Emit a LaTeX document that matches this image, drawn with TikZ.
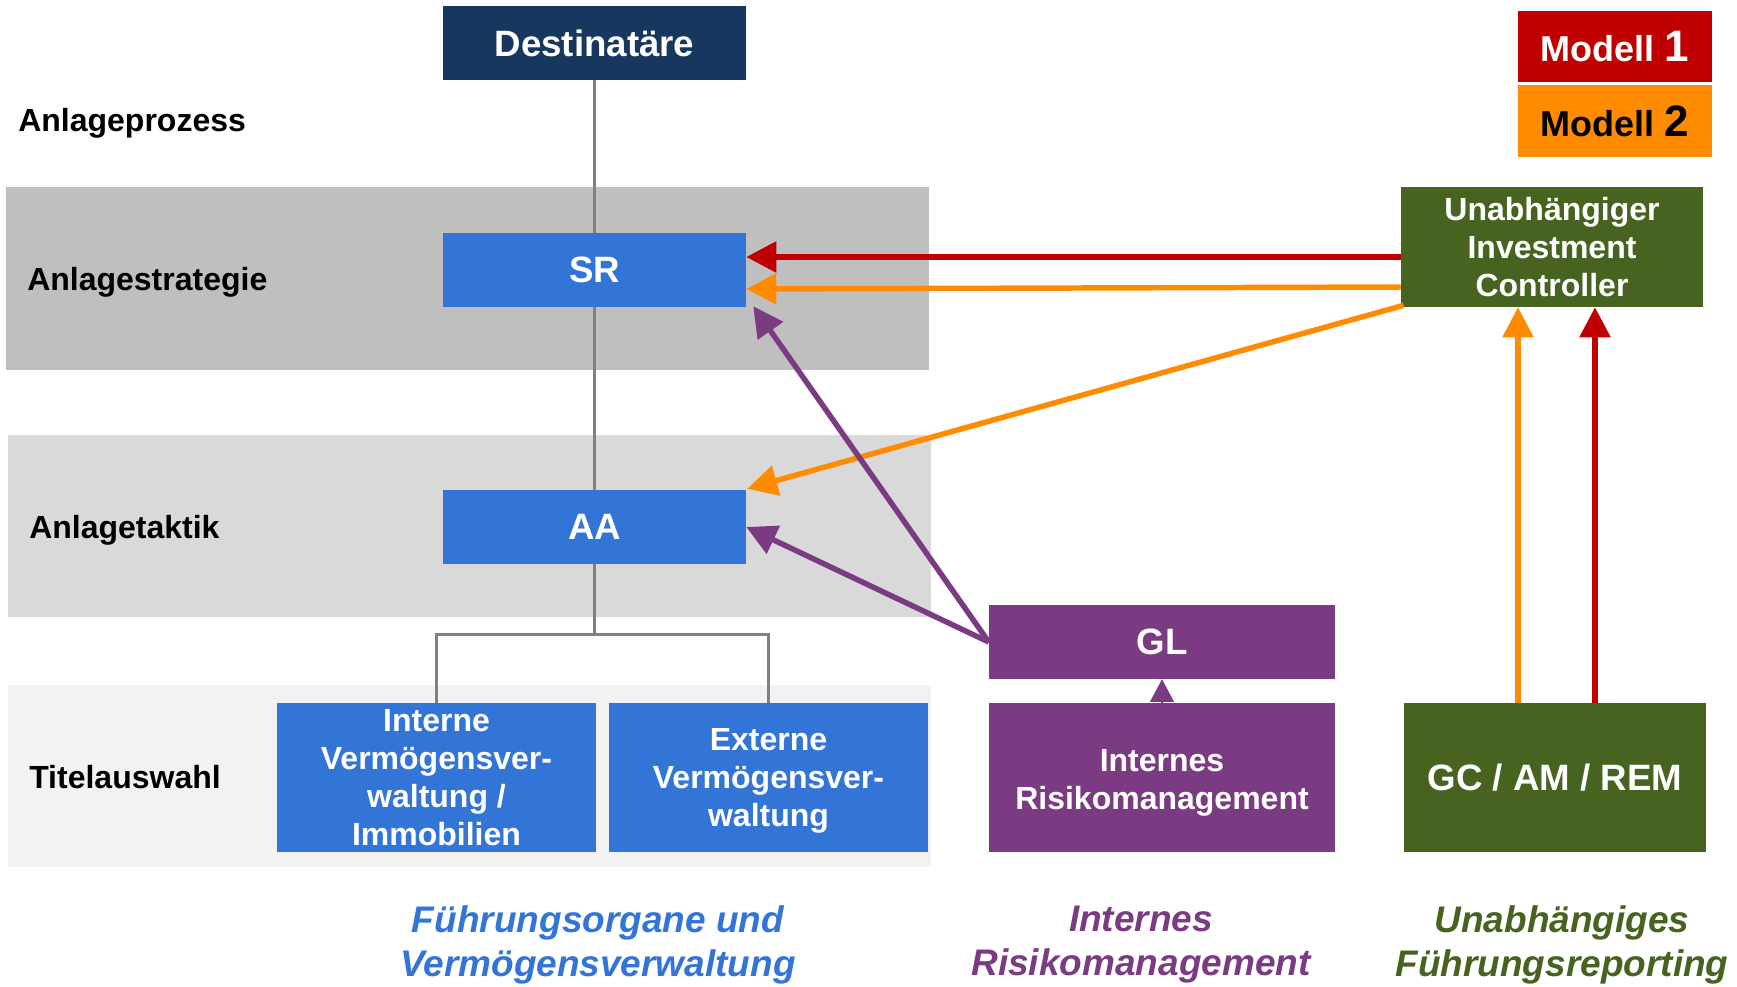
\documentclass[tikz,border=0pt]{standalone}
\usepackage{fontspec}
\setmainfont{Liberation Sans}
\usetikzlibrary{arrows.meta,calc}

\definecolor{navy}{HTML}{17375E}
\definecolor{boxblue}{HTML}{3375D6}
\definecolor{rmpurple}{HTML}{7B3B82}
\definecolor{ctrlgreen}{HTML}{46641F}
\definecolor{mred}{HTML}{C00000}
\definecolor{morange}{HTML}{FF8C00}
\definecolor{bandA}{HTML}{BFBFBF}
\definecolor{bandB}{HTML}{D9D9D9}
\definecolor{bandC}{HTML}{F2F2F2}
\definecolor{treegray}{HTML}{808080}

% taller first line: pushes a centred text block slightly downwards
\newcommand{\tallfirst}[1]{\rule{0pt}{#1}}

\tikzset{
  sz/.style 2 args={minimum width=#1*0.75pt, minimum height=#2*0.75pt},
  box/.style={rectangle, inner sep=0pt, align=center, text=white,
    font=\bfseries\fontsize{24}{28.5}\selectfont},
  bigbox/.style={box, font=\bfseries\fontsize{27.5}{33}\selectfont},
  modellbox/.style={box, font=\bfseries\fontsize{27}{32}\selectfont},
  stage/.style={anchor=west, inner sep=0pt,
    font=\bfseries\fontsize{24}{28.5}\selectfont},
  caption/.style={align=center, inner sep=0pt,
    font=\bfseries\itshape\fontsize{27.75}{33}\selectfont},
  tree/.style={draw=treegray, line width=2pt},
  flow/.style={line width=4.1pt, -{Triangle[length=22.5pt, width=22.5pt]}},
}

\begin{document}
\begin{tikzpicture}[x=0.75pt, y=-0.75pt]
  \useasboundingbox (0,0) rectangle (1737,986);
  \fill[white] (0,0) rectangle (1737,986);

  % process bands
  \fill[bandA] (6,187) rectangle (929,370);
  \fill[bandB] (8,435) rectangle (931,617);
  \fill[bandC] (8,685) rectangle (931,867);

  % stage labels
  \node[stage] (s0) at (18,123) {Anlageprozess};
  \node[stage] (s1) at (27,282) {Anlagestrategie};
  \node[stage] (s2) at (29,530) {Anlagetaktik};
  \node[stage] (s3) at (29,777) {Titelauswahl};

  % governance chain
  \node[bigbox, fill=navy, sz={303}{74}] (dest) at (594.5,43) {Destinatäre};
  \node[bigbox, fill=boxblue, sz={303}{74}] (sr) at (594.5,270) {SR};
  \node[bigbox, fill=boxblue, sz={303}{74}] (aa) at (594.5,527) {AA};
  \node[box, fill=boxblue, sz={319}{149}] (int) at (436.5,777.5)
    {Interne\\Vermögensver-\\waltung /\\Immobilien};
  \node[box, fill=boxblue, sz={319}{149}] (ext) at (768.5,777.5)
    {\tallfirst{22pt}Externe\\Vermögensver-\\waltung};

  % risk management
  \node[bigbox, fill=rmpurple, sz={346}{74}] (gl) at (1162,642) {GL};
  \node[box, fill=rmpurple, sz={346}{149}] (irm) at (1162,777.5)
    {\tallfirst{24pt}Internes\\Risikomanagement};

  % independent reporting
  \node[box, fill=ctrlgreen, sz={302}{120}] (uic) at (1552,247)
    {Unabhängiger\\Investment\\Controller};
  \node[bigbox, fill=ctrlgreen, sz={302}{149}] (gc) at (1555,777.5) {GC / AM / REM};

  % legend
  \node[modellbox, fill=mred, sz={194}{71}] (m1) at (1615,46.5)
    {Modell {\fontsize{33}{36}\selectfont 1}};
  \node[modellbox, fill=morange, text=black, sz={194}{72}] (m2) at (1615,121)
    {Modell {\fontsize{33}{36}\selectfont 2}};

  % column captions
  \node[caption, text=boxblue] (c1) at (598,945) {Führungsorgane und\\Vermögensverwaltung};
  \node[caption, text=rmpurple] (c2) at (1141,945) {Internes\\Risikomanagement};
  \node[caption, text=ctrlgreen] (c3) at (1562,945) {Unabhängiges\\Führungsreporting};

  % hierarchy lines
  \draw[tree] (dest.south) -- (sr.north);
  \draw[tree] (sr.south) -- (aa.north);
  \draw[tree] (aa.south) -- ++(0,70) coordinate (fork) -| (int.north);
  \draw[tree] (fork) -| (ext.north);

  % reporting arrows
  \draw[flow, mred] ($(uic.west)+(0,10)$) -- ($(sr.east)+(0,-13)$);
  \draw[flow, morange] ($(uic.west)+(0,40)$) -- ($(sr.east)+(0,19)$);
  \draw[flow, morange] ($(uic.south west)+(3,-2)$) -- ($(aa.north east)+(1,-1)$);
  \draw[flow, rmpurple] (gl.west) -- ($(sr.south east)+(7,-1)$);
  \draw[flow, rmpurple] (gl.west) -- (aa.east);
  \draw[flow, morange] ($(gc.north)+(-37,0)$) -- ($(uic.south)+(-34,0)$);
  \draw[flow, mred] ($(gc.north)+(40,0)$) -- ($(uic.south)+(43,0)$);
  \draw[rmpurple, line width=1pt, -{Triangle[length=17pt, width=18pt]}]
    (irm.north) -- (gl.south);
\end{tikzpicture}
\end{document}
